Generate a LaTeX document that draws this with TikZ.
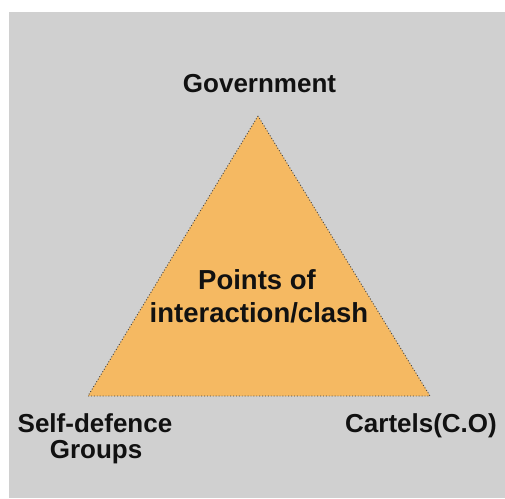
\documentclass[tikz,border=0pt]{standalone}
\usepackage{fontspec}
\setmainfont{Liberation Sans}
\definecolor{panelgray}{RGB}{208,208,208}
\definecolor{wedgefill}{RGB}{245,185,98}
\definecolor{inkdark}{RGB}{17,17,17}
\begin{document}
\begin{tikzpicture}[x=1pt,y=1pt,
  lbl/.style={inner sep=0pt, text=inkdark, font=\fontsize{26}{26}\bfseries\selectfont},
  midlbl/.style={lbl, font=\fontsize{27.5}{27.5}\bfseries\selectfont},
  wedge/.style={fill=wedgefill, draw=black!75, dotted, line width=0.9pt, line join=round}]
  % canvas and grey panel
  \useasboundingbox (0,0) rectangle (505,498);
  \fill[white] (0,0) rectangle (505,498);
  \fill[panelgray] (9,0) rectangle (505,486);
  % triangle corners
  \coordinate (top) at (258,382);
  \coordinate (bl) at (88,102);
  \coordinate (br) at (430,102);
  \draw[wedge] (top) -- (bl) -- (br) -- cycle;
  % labels
  \node[lbl, anchor=base] (gov) at (259.5,405) {Government};
  \node[lbl, anchor=base] (cart) at (421,66) {Cartels(C.O)};
  \node[lbl, anchor=base] (sdg1) at (95,66) {Self-defence};
  \node[lbl, anchor=base] (sdg2) at (96,40) {Groups};
  \node[midlbl, anchor=base] (pts1) at (257,208) {Points of};
  \node[midlbl, anchor=base] (pts2) at (259,176) {interaction/clash};
\end{tikzpicture}
\end{document}
